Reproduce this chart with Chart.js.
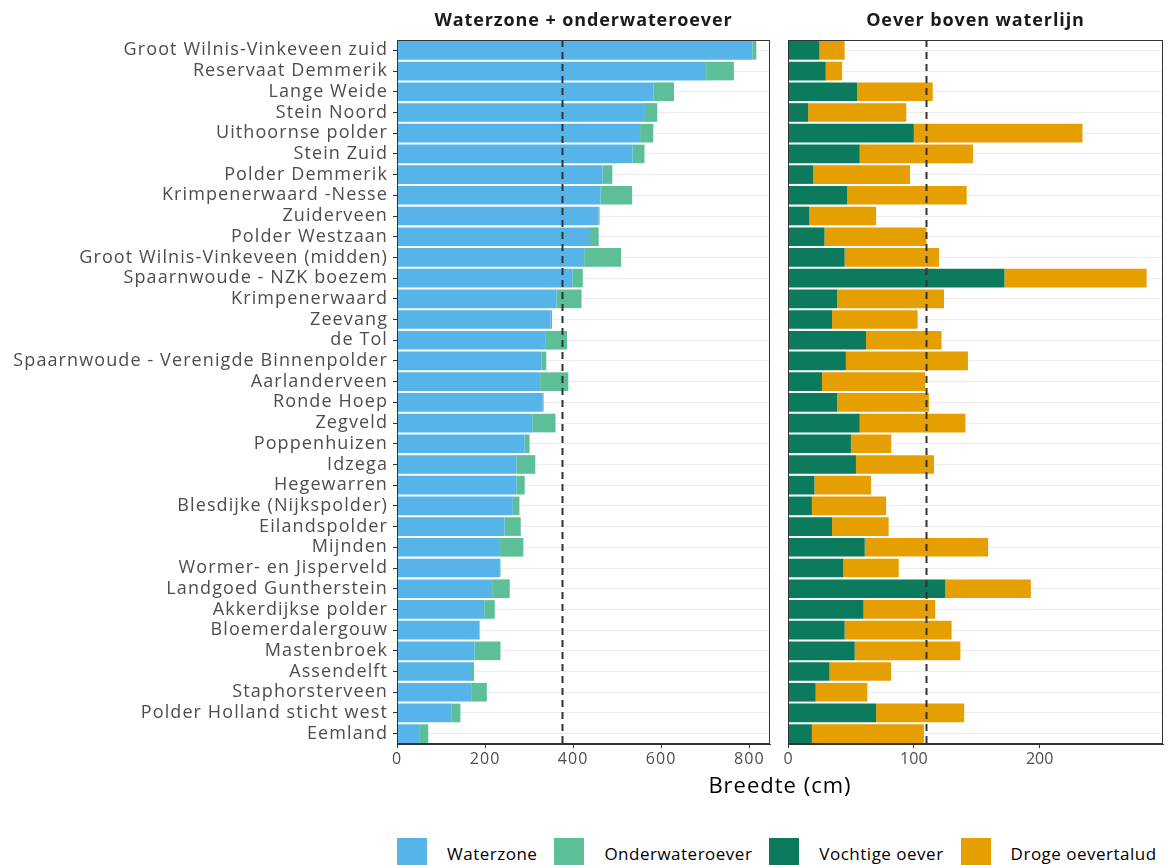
<!DOCTYPE html>
<html>
<head>
<meta charset="utf-8">
<script src="https://cdn.jsdelivr.net/npm/chart.js@4"></script>
<style>
  body { margin: 0; background: #fff; width: 1168px; height: 865px; position: relative; overflow: hidden; font-family: "Open Sans", sans-serif; }
  canvas { position: absolute; top: 0; }
  .facet { position: absolute; top: 7px; font-family: "Open Sans", sans-serif; font-weight: bold; font-size: 18px; letter-spacing: 0.9px; color: #1a1a1a; text-align: center; }
  .axis-title { position: absolute; top: 769px; left: 397px; width: 766px; text-align: center; font-size: 22px; letter-spacing: 1px; color: #000; }
  #legend { position: absolute; top: 838px; left: 397px; width: 780px; display: flex; align-items: center; white-space: nowrap; }
  .leg-item { display: flex; align-items: center; margin-right: 17px; flex-shrink: 0; }
  .leg-box { width: 30px; height: 30px; margin-right: 20px; }
  .leg-label { font-size: 17px; letter-spacing: 0.5px; color: #000; }
</style>
</head>
<body>
<canvas id="leftChart" width="775" height="780" style="left:0"></canvas>
<canvas id="rightChart" width="388" height="780" style="left:780px"></canvas>
<div class="facet" style="left:397px;width:373px">Waterzone + onderwateroever</div>
<div class="facet" style="left:788px;width:375px">Oever boven waterlijn</div>
<div class="axis-title">Breedte (cm)</div>
<div id="legend"></div>
<script>
// gebieden, van boven naar beneden
const categories = [
    'Groot Wilnis-Vinkeveen zuid', 'Reservaat Demmerik', 'Lange Weide', 'Stein Noord',
    'Uithoornse polder', 'Stein Zuid', 'Polder Demmerik', 'Krimpenerwaard -Nesse',
    'Zuiderveen', 'Polder Westzaan', 'Groot Wilnis-Vinkeveen (midden)', 'Spaarnwoude - NZK boezem',
    'Krimpenerwaard', 'Zeevang', 'de Tol', 'Spaarnwoude - Verenigde Binnenpolder',
    'Aarlanderveen', 'Ronde Hoep', 'Zegveld', 'Poppenhuizen', 'Idzega', 'Hegewarren',
    'Blesdijke (Nijkspolder)', 'Eilandspolder', 'Mijnden', 'Wormer- en Jisperveld',
    'Landgoed Guntherstein', 'Akkerdijkse polder', 'Bloemerdalergouw', 'Mastenbroek',
    'Assendelft', 'Staphorsterveen', 'Polder Holland sticht west', 'Eemland'
];

// breedte in cm
const waterzone = [807, 702, 582, 563, 552, 535, 467, 462, 457, 436, 425, 398, 362, 349, 338, 328, 325,
    331, 307, 290, 271, 271, 263, 244, 234, 232, 216, 198, 187, 176, 168, 170, 123, 52];
const onderwateroever = [9, 63, 47, 28, 30, 27, 22, 72, 3, 22, 84, 24, 57, 3, 48, 11, 64,
    2, 53, 11, 43, 19, 15, 37, 53, 3, 40, 24, 1, 59, 7, 34, 21, 19];
const vochtigeOever = [25, 30, 55, 16, 100, 57, 20, 47, 17, 29, 45, 172, 39, 35, 62, 46, 27,
    39, 57, 50, 54, 21, 19, 35, 61, 44, 125, 60, 45, 53, 33, 22, 70, 19];
const drogeOevertalud = [20, 13, 60, 78, 134, 90, 77, 95, 53, 81, 75, 113, 85, 68, 60, 97, 82,
    73, 84, 32, 62, 45, 59, 45, 98, 44, 68, 57, 85, 84, 49, 41, 70, 89];

// referentielijnen (gestippeld)
const refWater = 374;
const refOever = 110;

const leftTicks = [0, 200, 400, 600, 800];
const rightTicks = [0, 100, 200];

const seriesNames = ['Waterzone', 'Onderwateroever', 'Vochtige oever', 'Droge oevertalud'];
const seriesColors = ['#56B4E9', '#5DBF97', '#0B7A5D', '#E69F00'];

const GRID = '#ebebeb';
const AXIS = '#333333';
const TICKTXT = '#4d4d4d';

// panelrand + gestippelde lijn
function panelPlugin(refValue, spacing) {
    return {
        id: 'panel',
        // canvas-reset wist letterSpacing, dus telkens opnieuw zetten
        beforeUpdate(chart) { chart.ctx.letterSpacing = spacing; },
        beforeDraw(chart) { chart.ctx.letterSpacing = spacing; },
        afterDatasetsDraw(chart) {
            const { ctx, chartArea, scales } = chart;
            const x = Math.round(scales.x.getPixelForValue(refValue)) + 0.5;
            ctx.save();
            ctx.strokeStyle = '#333';
            ctx.lineWidth = 2;
            ctx.setLineDash([7, 5]);
            ctx.beginPath();
            ctx.moveTo(x, chartArea.top);
            ctx.lineTo(x, chartArea.bottom);
            ctx.stroke();
            ctx.restore();
        },
        afterDraw(chart) {
            const { ctx, chartArea } = chart;
            ctx.save();
            ctx.strokeStyle = AXIS;
            ctx.lineWidth = 1;
            ctx.strokeRect(chartArea.left + 0.5, chartArea.top + 0.5,
                chartArea.right - chartArea.left - 1, chartArea.bottom - chartArea.top - 1);
            ctx.restore();
        }
    };
}

function makeChart(canvasId, sets, max, ticks, refValue, showLabels) {
    const ctx = document.getElementById(canvasId).getContext('2d');
    return new Chart(ctx, {
        type: 'bar',
        data: {
            labels: categories,
            datasets: sets.map(s => ({
                label: s.name,
                data: s.data,
                backgroundColor: s.color,
                borderWidth: 0,
                categoryPercentage: 1,
                barPercentage: 0.9
            }))
        },
        options: {
            indexAxis: 'y',
            responsive: false,
            animation: false,
            devicePixelRatio: 1,
            layout: { padding: { top: 40, right: 5, left: 0, bottom: 0 } },
            plugins: { legend: { display: false }, tooltip: { enabled: false } },
            scales: {
                x: {
                    stacked: true,
                    min: 0,
                    max: max,
                    afterBuildTicks: (scale) => { scale.ticks = ticks.map(v => ({ value: v })); },
                    afterFit: (scale) => { scale.height = 36; },
                    grid: { drawOnChartArea: false, tickLength: 4, tickColor: AXIS },
                    border: { color: AXIS },
                    ticks: { color: TICKTXT, font: { family: 'Open Sans', size: 16 }, padding: 2, maxRotation: 0 }
                },
                y: {
                    stacked: true,
                    afterFit: (scale) => { scale.width = showLabels ? 397 : 8; },
                    grid: { offset: false, color: GRID, tickLength: showLabels ? 4 : 0, tickColor: AXIS },
                    border: { color: AXIS },
                    ticks: { display: showLabels, color: TICKTXT, font: { family: 'Open Sans', size: 18 }, padding: 5, autoSkip: false }
                }
            }
        },
        plugins: [panelPlugin(refValue, showLabels ? '1.1px' : '0px')]
    });
}

makeChart('leftChart', [
    { name: seriesNames[0], data: waterzone, color: seriesColors[0] },
    { name: seriesNames[1], data: onderwateroever, color: seriesColors[1] }
], 847, leftTicks, refWater, true);

makeChart('rightChart', [
    { name: seriesNames[2], data: vochtigeOever, color: seriesColors[2] },
    { name: seriesNames[3], data: drogeOevertalud, color: seriesColors[3] }
], 298, rightTicks, refOever, false);

// legenda
const legend = document.getElementById('legend');
legend.innerHTML = seriesNames.map((name, i) => `
    <div class="leg-item">
        <div class="leg-box" style="background:${seriesColors[i]}"></div>
        <span class="leg-label">${name}</span>
    </div>
`).join('');
</script>
</body>
</html>
